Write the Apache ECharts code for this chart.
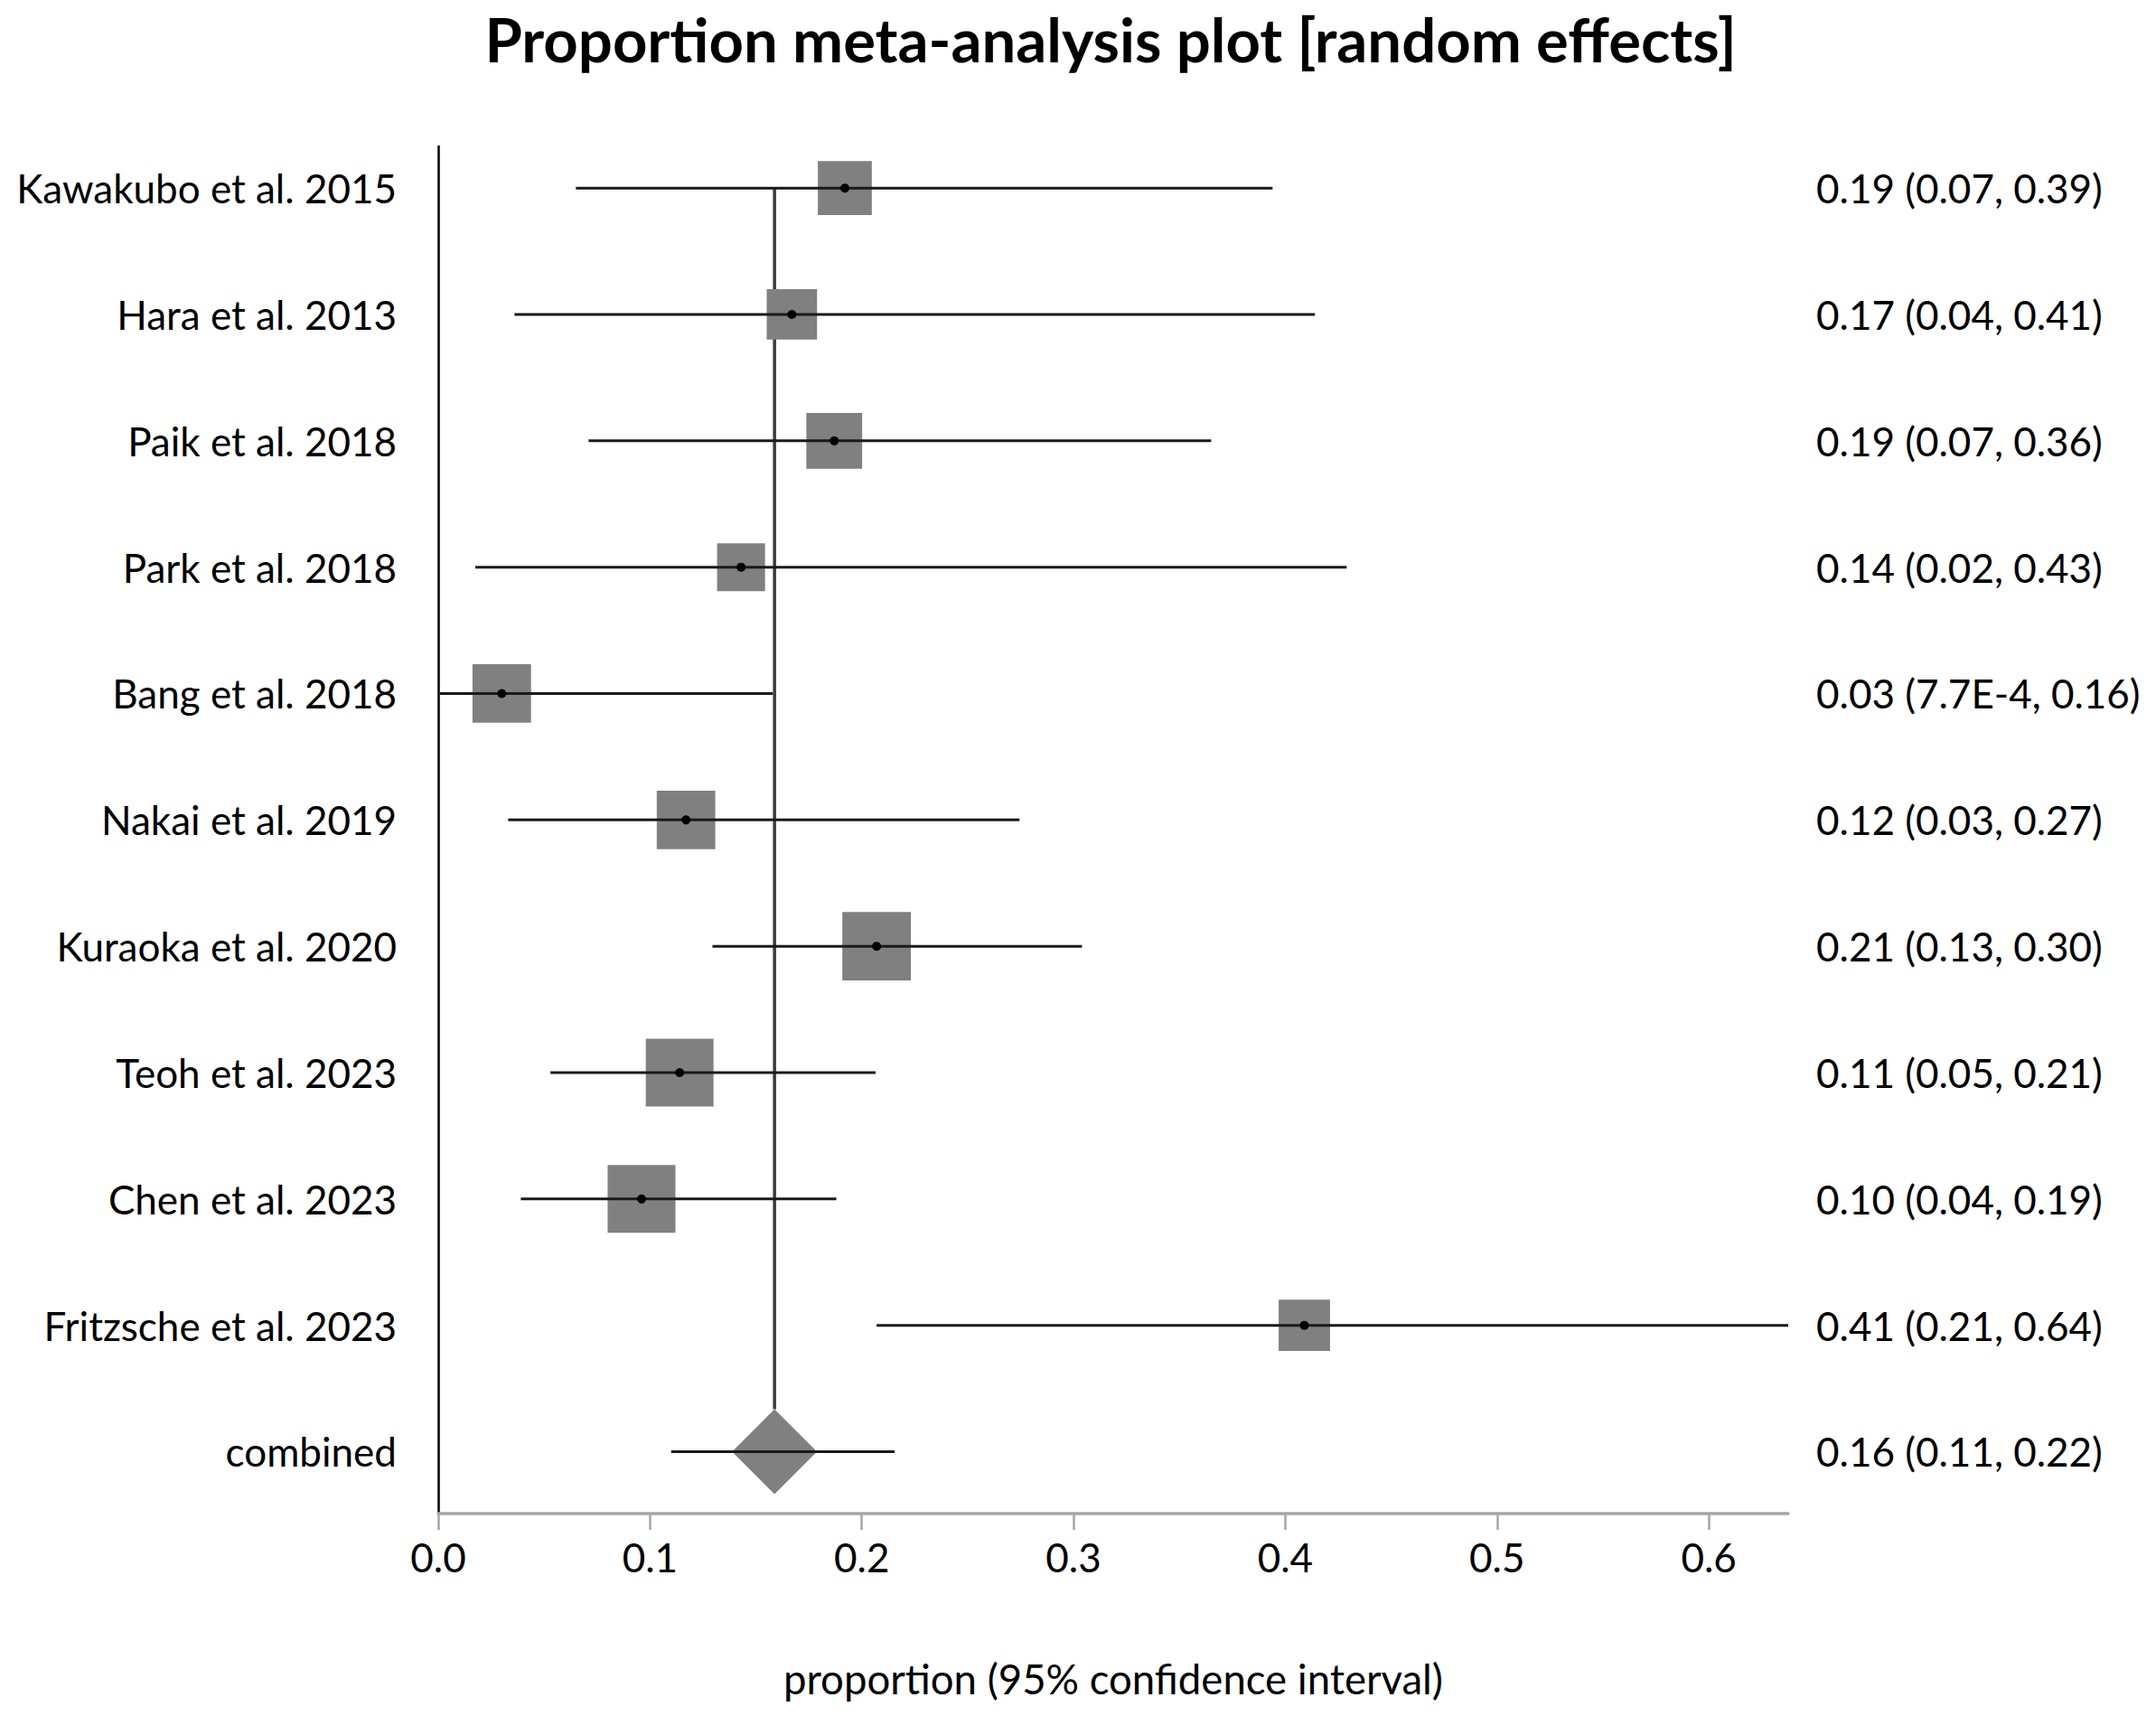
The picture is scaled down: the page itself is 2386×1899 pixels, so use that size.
<!DOCTYPE html>
<html>
<head>
<meta charset="utf-8">
<script src="https://cdn.jsdelivr.net/npm/echarts@6/dist/echarts.min.js"></script>
<style>
html,body{margin:0;padding:0;background:#fff;}
#chart{width:2386px;height:1899px;}
</style>
</head>
<body>
<div id="chart"></div>
<script>
// ---- data ----
const studies = ['Kawakubo et al. 2015','Hara et al. 2013','Paik et al. 2018','Park et al. 2018','Bang et al. 2018','Nakai et al. 2019','Kuraoka et al. 2020','Teoh et al. 2023','Chen et al. 2023','Fritzsche et al. 2023'];
const estimate = [0.192, 0.167, 0.187, 0.143, 0.030, 0.117, 0.207, 0.114, 0.096, 0.409];
const lower    = [0.065, 0.036, 0.071, 0.0175, 0.00077, 0.033, 0.1295, 0.053, 0.039, 0.207];
const upper    = [0.394, 0.414, 0.365, 0.429, 0.158, 0.2745, 0.304, 0.2065, 0.188, 0.6375];
const weights  = [8.5, 7.4, 9.1, 6.7, 10.0, 10.0, 13.7, 13.4, 13.4, 7.7];
const combinedLabel = 'combined';
const combinedEstimate = 0.1588;
const combinedLower = 0.110;
const combinedUpper = 0.2155;
const ciLabels = ['0.19 (0.07, 0.39)','0.17 (0.04, 0.41)','0.19 (0.07, 0.36)','0.14 (0.02, 0.43)','0.03 (7.7E-4, 0.16)','0.12 (0.03, 0.27)','0.21 (0.13, 0.30)','0.11 (0.05, 0.21)','0.10 (0.04, 0.19)','0.41 (0.21, 0.64)','0.16 (0.11, 0.22)'];
const xTicks = [0, 0.1, 0.2, 0.3, 0.4, 0.5, 0.6];
const xMax = 0.6375;

// ---- build ----
const rowLabels = studies.concat([combinedLabel]);
const rowIdx = rowLabels.map((_, i) => i);
const combinedRow = studies.length;
const studyData = studies.map((s, i) => [estimate[i], i, lower[i], upper[i], weights[i]]);
const combinedData = [[combinedEstimate, combinedRow, combinedLower, combinedUpper]];

const FONT = 'Lato';
const BOX_SCALE = 0.1465;
const DIAMOND = 0.336;

function renderStudy(params, api) {
  const i = api.value(1);
  const c = api.coord([api.value(0), i]);
  const l = api.coord([api.value(2), i]);
  const h = api.coord([api.value(3), i]);
  const rowH = Math.abs(api.size([0, 1])[1]);
  const side = Math.sqrt(api.value(4)) * rowH * BOX_SCALE;
  return {
    type: 'group',
    children: [
      {type: 'rect', shape: {x: c[0] - side / 2, y: c[1] - side / 2, width: side, height: side}, style: {fill: '#808080'}},
      {type: 'line', shape: {x1: l[0], y1: l[1], x2: h[0], y2: h[1]}, style: {stroke: '#1a1a1a', lineWidth: 3}},
      {type: 'circle', shape: {cx: c[0], cy: c[1], r: 5}, style: {fill: '#000'}}
    ]
  };
}

function renderCombined(params, api) {
  const i = api.value(1);
  const c = api.coord([api.value(0), i]);
  const top = api.coord([api.value(0), 0]);
  const l = api.coord([api.value(2), i]);
  const h = api.coord([api.value(3), i]);
  const rowH = Math.abs(api.size([0, 1])[1]);
  const d = rowH * DIAMOND;
  return {
    type: 'group',
    children: [
      {type: 'line', shape: {x1: top[0], y1: top[1], x2: c[0], y2: c[1] - d}, style: {stroke: '#3a3a3a', lineWidth: 3.5}},
      {type: 'polygon', shape: {points: [[c[0], c[1] - d], [c[0] + d, c[1]], [c[0], c[1] + d], [c[0] - d, c[1]]]}, style: {fill: '#808080'}},
      {type: 'line', shape: {x1: l[0], y1: l[1], x2: h[0], y2: h[1]}, style: {stroke: '#1a1a1a', lineWidth: 3}}
    ]
  };
}

const chart = echarts.init(document.getElementById('chart'), null, {renderer: 'svg'});
chart.setOption({
  backgroundColor: '#fff',
  animation: false,
  textStyle: {fontFamily: FONT},
  title: {
    text: 'Proportion meta-analysis plot [random effects]',
    left: 1229, top: 43,
    textAlign: 'center', textVerticalAlign: 'middle',
    padding: 0,
    textStyle: {fontFamily: FONT, fontWeight: 'bold', fontSize: 67, color: '#000'}
  },
  grid: {left: 485, right: 407, top: 162, bottom: 224, containLabel: false},
  xAxis: {
    type: 'value', min: 0, max: xMax, position: 'bottom',
    name: 'proportion (95% confidence interval)',
    nameLocation: 'middle', nameGap: 159,
    nameTextStyle: {fontFamily: FONT, fontSize: 45.5, color: '#000'},
    axisLine: {show: true, onZero: false, lineStyle: {color: '#a6a6a6', width: 3.5}},
    axisTick: {show: true, customValues: xTicks, length: 18, lineStyle: {color: '#a6a6a6', width: 2.5}},
    axisLabel: {customValues: xTicks, formatter: v => v.toFixed(1), fontFamily: FONT, fontSize: 44, color: '#000', margin: 26},
    splitLine: {show: false}
  },
  yAxis: [
    {
      type: 'value', inverse: true, min: -0.33, max: 10.49, position: 'left',
      axisLine: {show: true, onZero: false, lineStyle: {color: '#000', width: 2.5}},
      axisTick: {show: false},
      axisLabel: {customValues: rowIdx, formatter: v => rowLabels[Math.round(v)], fontFamily: FONT, fontSize: 44, color: '#000', margin: 46},
      splitLine: {show: false}
    },
    {
      type: 'value', inverse: true, min: -0.33, max: 10.49, position: 'right',
      axisLine: {show: false},
      axisTick: {show: false},
      axisLabel: {customValues: rowIdx, formatter: v => ciLabels[Math.round(v)], fontFamily: FONT, fontSize: 44, color: '#000', margin: 31},
      splitLine: {show: false}
    }
  ],
  series: [
    {type: 'custom', name: 'combined', renderItem: renderCombined, data: combinedData, encode: {x: 0, y: 1}, clip: false, z: 2},
    {type: 'custom', name: 'studies', renderItem: renderStudy, data: studyData, encode: {x: 0, y: 1}, clip: false, z: 3}
  ]
});
</script>
</body>
</html>
